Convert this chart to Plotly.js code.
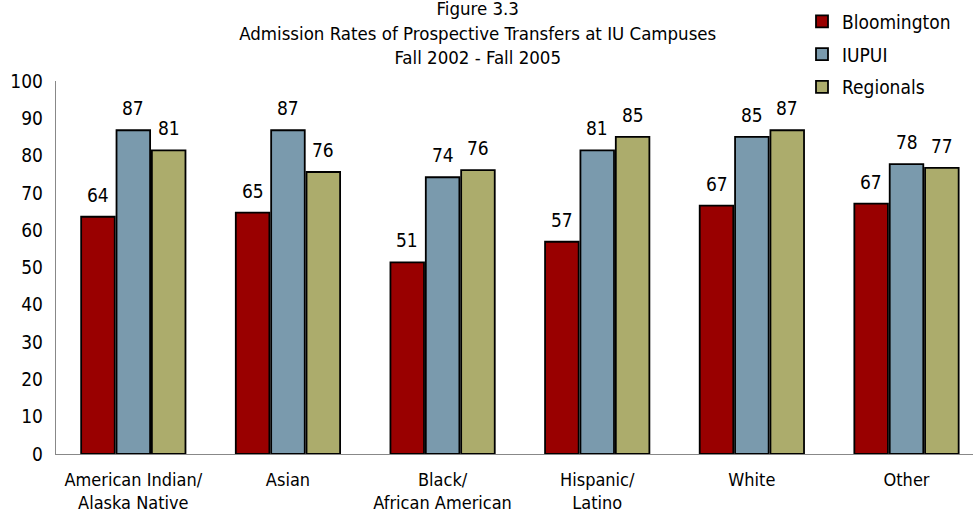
<!DOCTYPE html>
<html>
<head>
<meta charset="utf-8">
<script src="https://cdn.plot.ly/plotly-3.0.1.min.js"></script>
<style>html,body{margin:0;padding:0;background:#fff;}#chart{width:973px;height:512px;}</style>
</head>
<body>
<div id="chart"></div>
<script>
var categories = ["American Indian/<br>Alaska Native", "Asian", "Black/<br>African American", "Hispanic/<br>Latino", "White", "Other"];
var seriesNames = ["Bloomington", "IUPUI", "Regionals"];
var bloomington = [63.6, 64.7, 51.4, 56.9, 66.6, 67.1];
var iupui = [86.8, 86.8, 74.2, 81.4, 85.0, 77.7];
var regionals = [81.4, 75.6, 76.1, 85.0, 86.8, 76.7];
var yTicks = [0, 10, 20, 30, 40, 50, 60, 70, 80, 90, 100];
var titleLines = ["Figure 3.3", "Admission Rates of Prospective Transfers at IU Campuses", "Fall 2002 - Fall 2005"];

var colors = ["#990000", "#7A9AAD", "#ACAC6C"];
var FONT = "DejaVu Sans Condensed, DejaVu Sans, sans-serif";
var allSeries = [bloomington, iupui, regionals];

var W = 973, H = 512, ML = 56, MR = 0, MT = 81, MB = 58;
var XRANGE = [-0.5, 5.43];
var BARGAP = 0.314;

var traces = allSeries.map(function (vals, i) {
  return {
    type: "bar",
    name: seriesNames[i],
    legendgroup: "g" + i,
    x: categories,
    y: vals,
    marker: { color: colors[i], line: { color: "#000", width: 1.8 } },
    hoverinfo: "none"
  };
});

// value labels placed above each bar, offset to that bar's slot in the group
var catPx = (W - ML - MR) / (XRANGE[1] - XRANGE[0]);
var slotPx = catPx * (1 - BARGAP) / allSeries.length;
var annotations = [];
allSeries.forEach(function (vals, i) {
  vals.forEach(function (v, j) {
    annotations.push({
      x: categories[j], y: v, xref: "x", yref: "y",
      text: String(Math.round(v)),
      showarrow: false,
      xanchor: "center", yanchor: "middle",
      xshift: (i - (allSeries.length - 1) / 2) * slotPx,
      yshift: 22,
      font: { family: FONT, size: 19, color: "#000" }
    });
  });
});

var layout = {
  width: W, height: H,
  margin: { l: ML, r: MR, t: MT, b: MB, autoexpand: false },
  paper_bgcolor: "#fff", plot_bgcolor: "#fff",
  font: { family: FONT, size: 18, color: "#000" },
  barmode: "group",
  bargap: BARGAP,
  bargroupgap: 0.05,
  title: {
    text: titleLines.join("<br>"),
    font: { family: FONT, size: 18.5, color: "#000" },
    x: 0.491, xref: "container", xanchor: "center",
    y: 0.9698, yref: "container", yanchor: "middle",
    pad: { t: 0, b: 0, l: 0, r: 0 }
  },
  showlegend: true,
  legend: {
    xref: "container", yref: "container",
    x: 802 / W, y: 0.995, xanchor: "left", yanchor: "top",
    font: { family: FONT, size: 19, color: "#000" },
    bgcolor: "rgba(0,0,0,0)", borderwidth: 0,
    traceorder: "grouped", tracegroupgap: 5, itemwidth: 30
  },
  annotations: annotations,
  xaxis: {
    type: "category",
    range: XRANGE,
    showline: true, linecolor: "#888", linewidth: 1.3,
    ticks: "outside", ticklen: 9, tickcolor: "rgba(0,0,0,0)",
    tickfont: { family: FONT, size: 18, color: "#000" },
    showgrid: false, zeroline: false, fixedrange: true
  },
  yaxis: {
    range: [0, 100],
    tickvals: yTicks,
    ticktext: yTicks.map(String),
    showline: true, linecolor: "#888", linewidth: 1.3,
    ticks: "outside", ticklen: 8, tickcolor: "rgba(0,0,0,0)",
    tickfont: { family: FONT, size: 19, color: "#000" },
    showgrid: false, zeroline: false, fixedrange: true
  }
};

Plotly.newPlot("chart", traces, layout, { displayModeBar: false, staticPlot: true });
</script>
</body>
</html>
